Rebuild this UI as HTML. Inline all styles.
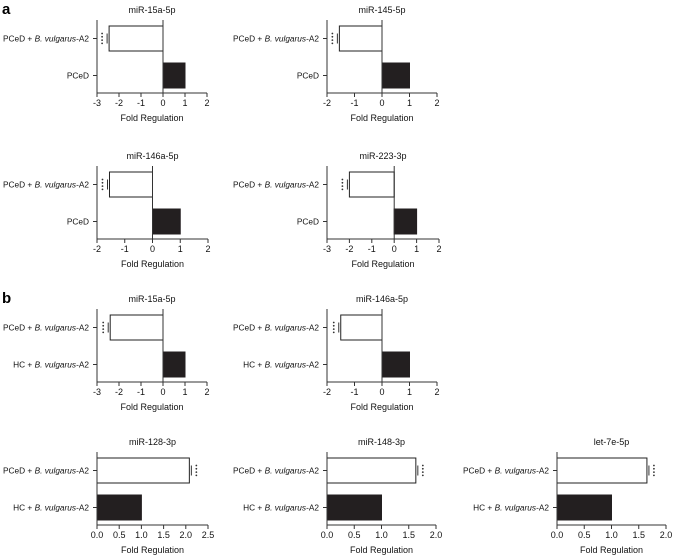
<!DOCTYPE html>
<html><head><meta charset="utf-8"><style>
html,body{margin:0;padding:0;background:#fff;}
svg{display:block;font-family:"Liberation Sans",Arial,sans-serif;}
</style></head><body>
<svg id="fig" width="673" height="557" viewBox="0 0 673 557">
<text x="2" y="14" font-size="15" font-weight="bold">a</text>
<text x="2" y="303" font-size="15" font-weight="bold">b</text>
</svg>
<script>
// chart data
const titles = ["miR-15a-5p","miR-145-5p","miR-146a-5p","miR-223-3p","miR-15a-5p","miR-146a-5p","miR-128-3p","miR-148-3p","let-7e-5p"];
const treatedValues = [-2.45,-1.55,-1.55,-2.0,-2.4,-1.5,2.08,1.63,1.65];
const controlValues = [1,1,1,1,1,1,1,1,1];
const controlLabels = ["PCeD","PCeD","PCeD","PCeD","HC","HC","HC","HC","HC"];
const axisMins = [-3,-2,-2,-3,-3,-2,0,0,0];
const axisMaxs = [2,2,2,2,2,2,2.5,2,2];
const tickSteps = [1,1,1,1,1,1,0.5,0.5,0.5];

// layout (not data)
const layout = [
 {x0:97,x1:207,top:20,y:0},{x0:327,x1:437,top:20,y:0},
 {x0:97,x1:208,top:166,y:146},{x0:327,x1:439,top:166,y:146},
 {x0:97,x1:207,top:309,y:289},{x0:327,x1:437,top:309,y:289},
 {x0:97,x1:208,top:452,y:432},{x0:327,x1:436,top:452,y:432},{x0:557,x1:666,top:452,y:432}
];
const NS="http://www.w3.org/2000/svg";
const svg=document.getElementById('fig');
function mk(tag,attrs,parent){const e=document.createElementNS(NS,tag);for(const k in attrs)e.setAttribute(k,attrs[k]);(parent||svg).appendChild(e);return e;}

titles.forEach((t,i)=>{
  const L=layout[i], oy=L.y;
  const g=mk('g',{});
  
  
  const xs=v=>L.x0+(v-axisMins[i])/(axisMaxs[i]-axisMins[i])*(L.x1-L.x0);
  const bottom=oy+93, bar1=oy+26, bar2=oy+63, bh=25;
  const cx=(L.x0+L.x1)/2;
  const tt=mk('text',{x:cx,y:oy+13,'font-size':9,'text-anchor':'middle',fill:'#111'},g);
  tt.textContent=t;
  
  
  const zero=xs(0);
  const v1=treatedValues[i];
  const r1=mk('rect',{x:Math.min(zero,xs(v1)),y:bar1,width:Math.abs(xs(v1)-zero),height:bh,fill:'#fff',stroke:'#222','stroke-width':1},g);
  
  
  const v2=controlValues[i];
  const r2=mk('rect',{x:Math.min(zero,xs(v2)),y:bar2,width:Math.abs(xs(v2)-zero),height:bh,fill:'#231f20',stroke:'#231f20','stroke-width':1},g);
  
  
  const ex=xs(v1), dir=v1<0?-1:1;
  mk('line',{x1:ex+dir*2,x2:ex+dir*2,y1:bar1+bh/2-5,y2:bar1+bh/2+5,stroke:'#333','stroke-width':1},g);
  for(let k=0;k<4;k++){
    const d=mk('circle',{cx:ex+dir*7,cy:bar1+bh/2-5+k*3.3,r:0.9,fill:'#333'},g);
    
    
  }
  const ya=mk('line',{x1:L.x0,x2:L.x0,y1:L.top,y2:bottom,stroke:'#333','stroke-width':1},g);
  
  
  const xa=mk('line',{x1:L.x0,x2:L.x1,y1:bottom,y2:bottom,stroke:'#333','stroke-width':1},g);
  
  
  if(axisMins[i]<0){mk('line',{x1:zero,x2:zero,y1:L.top,y2:bottom,stroke:'#333','stroke-width':1},g);}
  const step=tickSteps[i];
  for(let v=axisMins[i];v<=axisMaxs[i]+1e-9;v+=step){
    const x=xs(v);
    mk('line',{x1:x,x2:x,y1:bottom,y2:bottom+4,stroke:'#333','stroke-width':1},g);
    const tl=mk('text',{x:x,y:bottom+13,'font-size':9,'text-anchor':'middle',fill:'#111'},g);
    tl.textContent=step<1?v.toFixed(1):String(Math.round(v));
    
    
  }
  const at=mk('text',{x:cx,y:bottom+28,'font-size':9,'text-anchor':'middle',fill:'#111'},g);
  at.textContent='Fold Regulation';
  
  
  [[bar1+bh/2,'PCeD + ',true],[bar2+bh/2,controlLabels[i]+(controlLabels[i]==='HC'?' + ':''),controlLabels[i]==='HC']].forEach(([yy,pre,italic])=>{
    mk('line',{x1:L.x0-4,x2:L.x0,y1:yy,y2:yy,stroke:'#333','stroke-width':1},g);
    const lt=mk('text',{x:L.x0-8,y:yy+3,'font-size':8.3,'text-anchor':'end',fill:'#111'},g);
    
    
    const s1=mk('tspan',{},lt); s1.textContent=pre;
    if(italic){const s2=mk('tspan',{'font-style':'italic'},lt); s2.textContent='B. vulgarus';
      const s3=mk('tspan',{},lt); s3.textContent='-A2';}
  });
});
</script>
</body></html>
